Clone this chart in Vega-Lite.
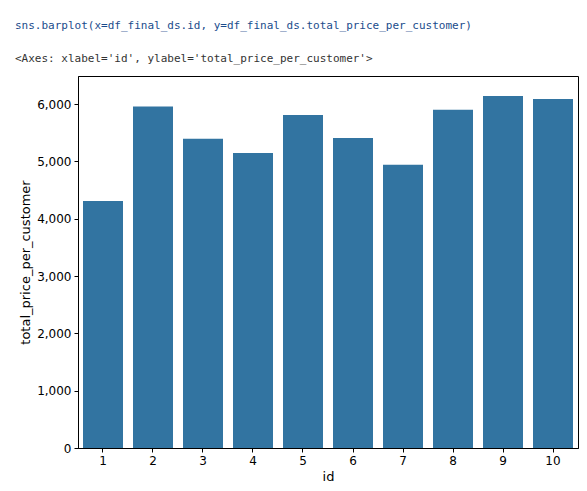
{
  "$schema": "https://vega.github.io/schema/vega-lite/v6.json",
  "width": 500,
  "height": 372,
  "autosize": {"type": "none"},
  "padding": {"left": 78, "top": 76, "right": 9, "bottom": 43},
  "background": "white",
  "title": {
    "text": "sns.barplot(x=df_final_ds.id, y=df_final_ds.total_price_per_customer)",
    "subtitle": "<Axes: xlabel='id', ylabel='total_price_per_customer'>",
    "anchor": "start",
    "frame": "group",
    "dx": -63,
    "offset": 12,
    "font": "DejaVu Sans Mono",
    "fontSize": 11,
    "fontWeight": "normal",
    "color": "#1a4c8c",
    "subtitleFont": "DejaVu Sans Mono",
    "subtitleFontSize": 11,
    "subtitleColor": "#333333",
    "subtitlePadding": 22
  },
  "data": {"values": [
    {"id": "1", "total": 4310},
    {"id": "2", "total": 5960},
    {"id": "3", "total": 5395},
    {"id": "4", "total": 5148},
    {"id": "5", "total": 5810},
    {"id": "6", "total": 5410},
    {"id": "7", "total": 4940},
    {"id": "8", "total": 5900},
    {"id": "9", "total": 6143},
    {"id": "10", "total": 6090}
  ]},
  "mark": {"type": "bar", "color": "#3274a1"},
  "encoding": {
    "x": {"field": "id", "type": "ordinal", "sort": null,
      "scale": {"paddingInner": 0.2, "paddingOuter": 0.1},
      "axis": {"title": "id", "labelAngle": 0}},
    "y": {"field": "total", "type": "quantitative",
      "scale": {"domain": [0, 6490], "nice": false},
      "axis": {"title": "total_price_per_customer", "values": [0,1000,2000,3000,4000,5000,6000], "grid": false}}
  },
  "config": {
    "view": {"stroke": "black", "strokeWidth": 1},
    "axis": {"domainColor": "black", "tickColor": "black", "labelColor": "black", "titleColor": "black",
      "labelFont": "DejaVu Sans", "titleFont": "DejaVu Sans", "labelFontSize": 12, "titleFontSize": 13,
      "titleFontWeight": "normal", "tickSize": 4, "labelPadding": 3}
  }
}
